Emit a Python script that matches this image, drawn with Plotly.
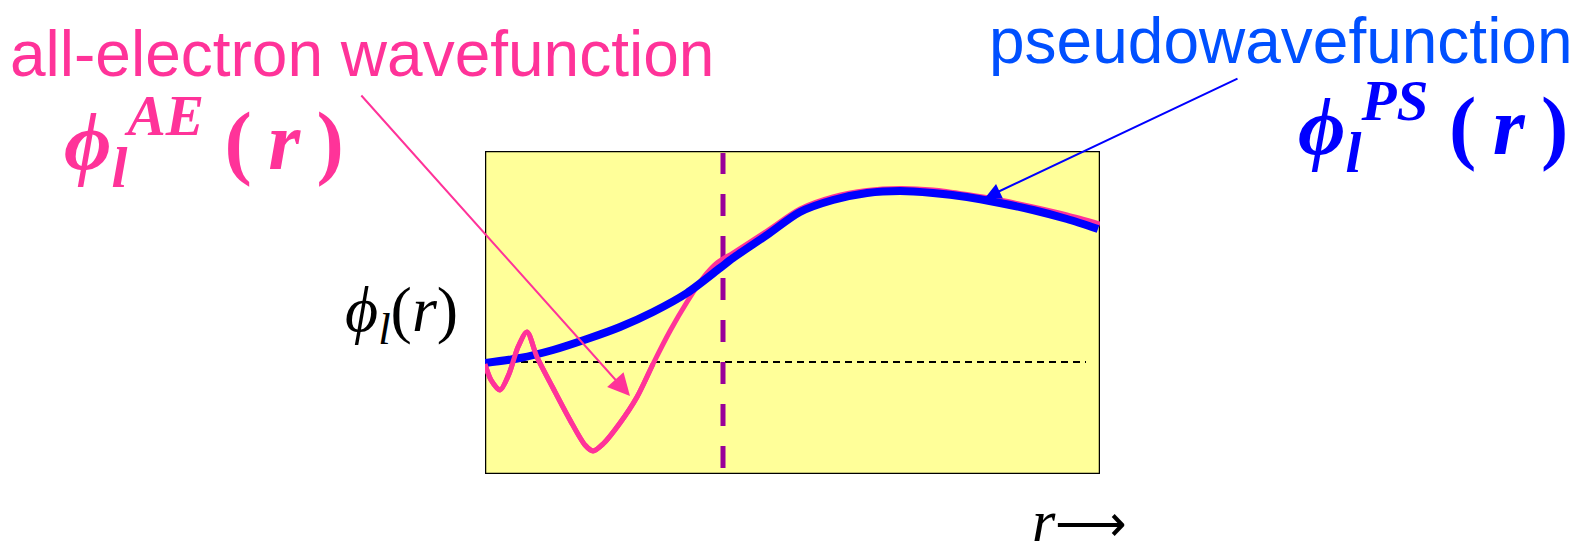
import plotly.graph_objects as go

# radial grid (arbitrary units) and wavefunction samples
r_ae = [0.00, 0.06, 0.15, 0.24, 0.33, 0.42, 0.52, 0.68, 0.85, 1.00, 1.08, 1.18,
        1.35, 1.52, 1.68, 1.85, 2.02, 2.18, 2.32, 2.48, 2.82, 3.15, 3.48, 3.82,
        4.15, 4.48, 4.82, 5.15, 5.48, 5.82, 6.15]
phi_ae = [-0.02, -0.18, -0.28, -0.12, 0.15, 0.30, 0.05, -0.26, -0.58, -0.83, -0.89, -0.82,
          -0.61, -0.35, -0.02, 0.31, 0.60, 0.84, 0.99, 1.09, 1.31, 1.53, 1.65, 1.715,
          1.735, 1.72, 1.675, 1.62, 1.55, 1.47, 1.38]

r_ps = [0.00, 0.35, 0.68, 1.02, 1.35, 1.68, 2.02, 2.35, 2.48, 2.82, 3.15, 3.48,
        3.82, 4.15, 4.48, 4.82, 5.15, 5.48, 5.82, 6.13]
phi_ps = [-0.01, 0.04, 0.12, 0.23, 0.35, 0.50, 0.69, 0.94, 1.04, 1.27, 1.50, 1.62,
          1.69, 1.71, 1.69, 1.65, 1.59, 1.52, 1.43, 1.33]

r_cut = 2.38          # cutoff radius
r_max = 6.15
y_min, y_max = -1.12, 2.11

PINK = "#FF3399"
BLUE = "#0000FF"
PURPLE = "#990099"
PHI = "\u03d5"
THIN = "\u2009"

fig = go.Figure()

# all-electron wavefunction (full curve, under the pseudo curve)
fig.add_trace(go.Scatter(x=r_ae, y=phi_ae, mode="lines",
                         line=dict(color=PINK, width=5, shape="spline", smoothing=0.8),
                         hoverinfo="skip"))
# pseudowavefunction
fig.add_trace(go.Scatter(x=r_ps, y=phi_ps, mode="lines",
                         line=dict(color=BLUE, width=8, shape="spline", smoothing=0.8),
                         hoverinfo="skip"))
# inner oscillating part of the all-electron curve drawn on top
n_in = sum(1 for v in r_ae if v <= 1.68)
fig.add_trace(go.Scatter(x=r_ae[:n_in], y=phi_ae[:n_in], mode="lines",
                         line=dict(color=PINK, width=5, shape="spline", smoothing=0.8),
                         hoverinfo="skip"))

shapes = [
    # panel
    dict(type="rect", xref="x", yref="y", x0=0, x1=r_max, y0=y_min, y1=y_max,
         fillcolor="#FFFF99", line=dict(color="black", width=2.5), layer="below"),
    # zero line
    dict(type="line", xref="x", yref="y", x0=0, x1=6.01, y0=0, y1=0,
         line=dict(color="black", width=2, dash="7px,5px"), layer="below"),
    # cutoff radius
    dict(type="line", xref="x", yref="y", x0=r_cut, x1=r_cut, y0=y_min + 0.06, y1=y_max - 0.02,
         line=dict(color=PURPLE, width=5, dash="22px,20px"), layer="below"),
]


def px_x(px):
    return (px - 485) / 615


def px_y(py):
    return (474 - py) / 323


def formula(tag):
    return (f"<b><i>{PHI}</i><sub><i>l</i></sub><sup><i>{tag}</i></sup> "
            f"({THIN}<i>r</i>{THIN})</b>")


annotations = [
    dict(text="all-electron wavefunction", xref="paper", yref="paper",
         x=px_x(8), y=px_y(16), xanchor="left", yanchor="top",
         showarrow=False, font=dict(family="Liberation Sans", size=64, color=PINK)),
    dict(text="pseudowavefunction", xref="paper", yref="paper",
         x=px_x(987), y=px_y(3), xanchor="left", yanchor="top",
         showarrow=False, font=dict(family="Liberation Sans", size=64, color="#0050FF")),
    dict(text=formula("AE"), xref="paper", yref="paper",
         x=px_x(62), y=px_y(141), xanchor="left", yanchor="middle",
         showarrow=False, font=dict(family="Liberation Serif", size=82, color=PINK)),
    dict(text=formula("PS"), xref="paper", yref="paper",
         x=px_x(1296), y=px_y(126), xanchor="left", yanchor="middle",
         showarrow=False, font=dict(family="Liberation Serif", size=82, color=BLUE)),
    dict(text=f"<i>{PHI}</i><sub><i>l</i></sub>(<i>r</i>)", xref="paper", yref="paper",
         x=px_x(343), y=px_y(314), xanchor="left", yanchor="middle",
         showarrow=False, font=dict(family="Liberation Serif", size=64, color="black")),
    dict(text="<i>r</i><span style='font-size:50px'>\u27f6</span>", xref="paper", yref="paper",
         x=px_x(1030), y=px_y(521), xanchor="left", yanchor="middle",
         showarrow=False, font=dict(family="Liberation Serif", size=60, color="black")),
    # pointers
    dict(text="", x=1.45, y=-0.34, xref="x", yref="y", ax=-270, ay=-302,
         showarrow=True, arrowhead=2, arrowsize=2.2, arrowwidth=2, arrowcolor=PINK,
         standoff=0),
    dict(text="", x=5.0, y=1.64, xref="x", yref="y", ax=254, ay=-120,
         showarrow=True, arrowhead=2, arrowsize=1.6, arrowwidth=2, arrowcolor=BLUE,
         standoff=0),
]

fig.update_layout(
    width=1577, height=554, autosize=False,
    margin=dict(l=485, r=477, t=151, b=80, pad=0),
    paper_bgcolor="white", plot_bgcolor="rgba(0,0,0,0)",
    showlegend=False,
    xaxis=dict(range=[0, r_max], visible=False, fixedrange=True),
    yaxis=dict(range=[y_min, y_max], visible=False, fixedrange=True),
    shapes=shapes, annotations=annotations,
)

fig.write_html("out.html")
